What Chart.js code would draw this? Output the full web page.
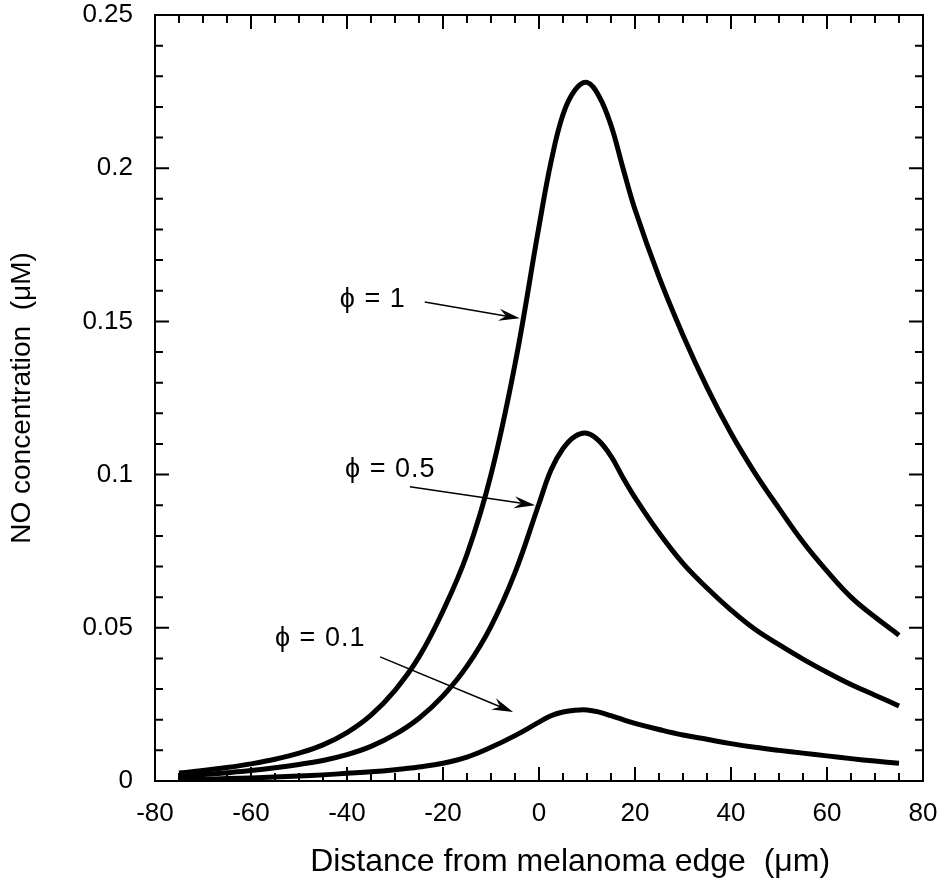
<!DOCTYPE html>
<html>
<head>
<meta charset="utf-8">
<script src="https://cdn.jsdelivr.net/npm/chart.js@4"></script>
<style>
  html, body { margin: 0; padding: 0; background: #fff; }
  canvas { display: block; }
</style>
</head>
<body>
<canvas id="chart" width="942" height="892"></canvas>
<script>
// distance from melanoma edge (um)
const distance = [-75, -70, -65, -60, -55, -50, -45, -40, -35, -30, -25, -20, -15, -10, -5, 0,
                  2.5, 5, 7.5, 10, 12.5, 15, 17.5, 20, 25, 30, 35, 40, 45, 50, 55, 60, 65, 70, 75];

// NO concentration (uM) for each phi
const phi1 = [0.0026, 0.0034, 0.0044, 0.0056, 0.0071, 0.0091, 0.0118, 0.0158, 0.0215, 0.0296, 0.0405, 0.0555, 0.074, 0.100, 0.136, 0.181,
              0.202, 0.2175, 0.2255, 0.228, 0.2235, 0.214, 0.200, 0.1865, 0.1645, 0.1455, 0.1285, 0.1135, 0.1005, 0.089, 0.078, 0.0685, 0.060, 0.0535, 0.0476];
const phi05 = [0.0016, 0.0021, 0.0027, 0.0034, 0.0043, 0.0054, 0.0067, 0.0086, 0.0113, 0.0152, 0.0205, 0.0278, 0.0375, 0.0505, 0.068, 0.0905,
               0.1015, 0.1085, 0.1125, 0.1135, 0.111, 0.106, 0.099, 0.0925, 0.081, 0.071, 0.063, 0.0558, 0.0495, 0.0445, 0.0398, 0.0355, 0.0315, 0.028, 0.0245];
const phi01 = [0.0005, 0.0006, 0.0008, 0.0010, 0.0013, 0.0016, 0.0020, 0.0025, 0.0030, 0.0037, 0.0046, 0.0058, 0.0078, 0.0110, 0.0148, 0.0192,
               0.0213, 0.0225, 0.0231, 0.0232, 0.0225, 0.0213, 0.0200, 0.0188, 0.0168, 0.0150, 0.0136, 0.0122, 0.0110, 0.0100, 0.0091, 0.0082, 0.0073, 0.0065, 0.0058];

const seriesNames = ["\u03D5 = 1", "\u03D5 = 0.5", "\u03D5 = 0.1"];

// label text position and arrow (from -> to), in data units
const labelAt = [[-41.5, 0.157], [-40.4, 0.1015], [-55, 0.0465]];
const arrowFrom = [[-23.8, 0.1563], [-26.9, 0.0960], [-33.1, 0.0405]];
const arrowTo = [[-4, 0.151], [-0.8, 0.090], [-5.4, 0.0225]];

const FONT = "'Liberation Sans', Arial, sans-serif";
const toPoints = vals => vals.map((v, i) => ({ x: distance[i], y: v }));

// inward ticks on all four sides plus the labels with arrows
const framePlugin = {
    id: "frame",
    afterDatasetsDraw(chart) {
        const { ctx, chartArea: a, scales } = chart;
        const xs = scales.x, ys = scales.y;
        ctx.save();
        ctx.strokeStyle = "#000";
        ctx.lineWidth = 2;
        ctx.strokeRect(a.left, a.top, a.right - a.left, a.bottom - a.top);

        for (let v = -80; v <= 80; v += 5) {
            const px = xs.getPixelForValue(v);
            const len = v % 20 === 0 ? 14 : 8;
            ctx.beginPath();
            ctx.moveTo(px, a.bottom); ctx.lineTo(px, a.bottom - len);
            ctx.moveTo(px, a.top); ctx.lineTo(px, a.top + len);
            ctx.stroke();
        }
        for (let k = 0; k <= 25; k++) {
            const py = ys.getPixelForValue(k / 100);
            const len = k % 5 === 0 ? 14 : 8;
            ctx.beginPath();
            ctx.moveTo(a.left, py); ctx.lineTo(a.left + len, py);
            ctx.moveTo(a.right, py); ctx.lineTo(a.right - len, py);
            ctx.stroke();
        }

        ctx.fillStyle = "#000";
        ctx.font = "27px " + FONT;
        ctx.letterSpacing = "1px";
        ctx.textBaseline = "middle";
        ctx.textAlign = "left";
        seriesNames.forEach((name, i) => {
            ctx.fillText(name, xs.getPixelForValue(labelAt[i][0]), ys.getPixelForValue(labelAt[i][1]));
            const x1 = xs.getPixelForValue(arrowFrom[i][0]), y1 = ys.getPixelForValue(arrowFrom[i][1]);
            const x2 = xs.getPixelForValue(arrowTo[i][0]), y2 = ys.getPixelForValue(arrowTo[i][1]);
            const ang = Math.atan2(y2 - y1, x2 - x1);
            ctx.lineWidth = 1.5;
            ctx.beginPath();
            ctx.moveTo(x1, y1); ctx.lineTo(x2 - 10 * Math.cos(ang), y2 - 10 * Math.sin(ang));
            ctx.stroke();
            // arrow head
            ctx.beginPath();
            ctx.moveTo(x2, y2);
            ctx.lineTo(x2 - 22 * Math.cos(ang - 0.28), y2 - 22 * Math.sin(ang - 0.28));
            ctx.lineTo(x2 - 14 * Math.cos(ang), y2 - 14 * Math.sin(ang));
            ctx.lineTo(x2 - 22 * Math.cos(ang + 0.28), y2 - 22 * Math.sin(ang + 0.28));
            ctx.closePath();
            ctx.fill();
        });
        ctx.restore();
    }
};

const lineStyle = { borderColor: "#000", borderWidth: 5, pointRadius: 0, fill: false, tension: 0.4, borderCapStyle: "butt", borderJoinStyle: "round" };

new Chart(document.getElementById("chart"), {
    type: "line",
    data: {
        datasets: [
            { label: seriesNames[0], data: toPoints(phi1), ...lineStyle },
            { label: seriesNames[1], data: toPoints(phi05), ...lineStyle },
            { label: seriesNames[2], data: toPoints(phi01), ...lineStyle }
        ]
    },
    options: {
        responsive: false,
        animation: false,
        layout: { padding: { top: 15, right: 19, left: 0, bottom: 0 } },
        plugins: {
            legend: { display: false },
            tooltip: { enabled: false }
        },
        scales: {
            x: {
                type: "linear",
                min: -80, max: 80,
                afterFit: s => { s.height = 111; s.paddingLeft = 0; s.paddingRight = 0; },
                grid: { display: false, drawTicks: false },
                border: { display: false },
                ticks: { stepSize: 20, color: "#000", padding: 17, font: { size: 26, family: FONT } },
                title: { display: true, text: "\u00A0\u00A0\u00A0\u00A0\u00A0\u00A0\u00A0Distance from melanoma edge  (\u03BCm)", color: "#000",
                         padding: { top: 0, bottom: 11 }, font: { size: 32, family: FONT } }
            },
            y: {
                min: 0, max: 0.25,
                afterFit: s => { s.width = 155; s.paddingTop = 0; s.paddingBottom = 0; },
                grid: { display: false, drawTicks: false },
                border: { display: false },
                ticks: { stepSize: 0.05, color: "#000", padding: 22, font: { size: 26, family: FONT },
                         callback: v => String(+v.toFixed(2)) },
                title: { display: true, text: "NO concentration  (\u03BCM)", color: "#000",
                         padding: { top: 5, bottom: 0 }, font: { size: 28, family: FONT } }
            }
        }
    },
    plugins: [framePlugin]
});
</script>
</body>
</html>
